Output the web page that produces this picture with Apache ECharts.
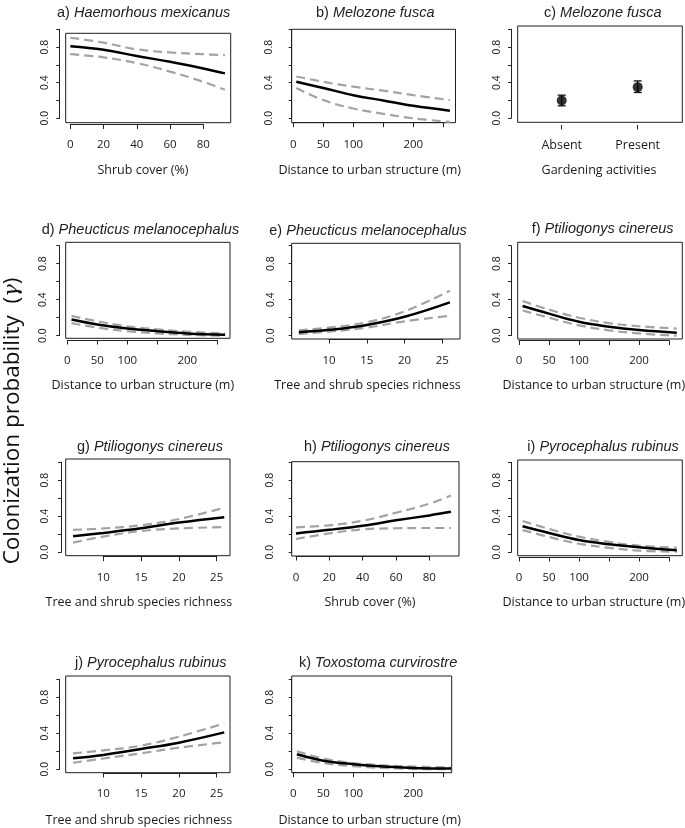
<!DOCTYPE html>
<html><head><meta charset="utf-8">
<script src="https://cdn.jsdelivr.net/npm/echarts@6/dist/echarts.min.js"></script>
<style>html,body{margin:0;padding:0;background:#fff}#c{width:685px;height:828px}</style>
</head><body><div id="c"></div>
<script>
// ---------------- data ----------------
const yTickLabels = ['0.0', '0.4', '0.8'];
const shrubTickLabels = [0, 20, 40, 60, 80];
const distTickLabels = [0, 50, 100, 200];
const richTickLabels = [10, 15, 20, 25];
const gardenCats = ['Absent', 'Present'];

// a) Haemorhous mexicanus ~ shrub cover
const aX   = [0, 20, 40, 60, 80, 93];
const aFit = [0.81, 0.77, 0.70, 0.635, 0.56, 0.505];
const aUp  = [0.905, 0.85, 0.775, 0.74, 0.72, 0.71];
const aLo  = [0.72, 0.685, 0.62, 0.525, 0.41, 0.32];
// b) Melozone fusca ~ distance to urban structure
const bX   = [5, 50, 100, 150, 200, 261];
const bFit = [0.41, 0.34, 0.26, 0.20, 0.14, 0.085];
const bUp  = [0.47, 0.41, 0.355, 0.31, 0.26, 0.205];
const bLo  = [0.34, 0.205, 0.11, 0.05, 0.0, -0.04];
// c) Melozone fusca ~ gardening activities
const gardenEst = [0.20, 0.35];
const gardenLo  = [0.14, 0.29];
const gardenHi  = [0.26, 0.42];
// d) Pheucticus melanocephalus ~ distance
const dX   = [7, 50, 100, 150, 200, 263];
const dFit = [0.18, 0.125, 0.08, 0.05, 0.025, 0.01];
const dUp  = [0.22, 0.16, 0.105, 0.07, 0.045, 0.025];
const dLo  = [0.14, 0.09, 0.05, 0.025, 0.01, 0.0];
// e) Pheucticus melanocephalus ~ richness
const eX   = [6, 10, 15, 20, 26];
const eFit = [0.038, 0.065, 0.12, 0.21, 0.37];
const eUp  = [0.06, 0.09, 0.15, 0.27, 0.50];
const eLo  = [0.02, 0.045, 0.09, 0.16, 0.22];
// f) Ptiliogonys cinereus ~ distance
const fX   = [6, 50, 100, 150, 200, 263];
const fFit = [0.33, 0.245, 0.155, 0.10, 0.063, 0.033];
const fUp  = [0.385, 0.29, 0.20, 0.14, 0.105, 0.08];
const fLo  = [0.28, 0.20, 0.115, 0.06, 0.025, 0.0];
// g) Ptiliogonys cinereus ~ richness
const gX   = [6, 10, 15, 20, 26];
const gFit = [0.178, 0.215, 0.267, 0.33, 0.39];
const gUp  = [0.25, 0.265, 0.30, 0.37, 0.495];
const gLo  = [0.107, 0.175, 0.237, 0.265, 0.28];
// h) Ptiliogonys cinereus ~ shrub cover
const hX   = [0, 20, 40, 60, 80, 93];
const hFit = [0.21, 0.25, 0.296, 0.355, 0.41, 0.45];
const hUp  = [0.278, 0.30, 0.35, 0.44, 0.54, 0.63];
const hLo  = [0.148, 0.21, 0.255, 0.267, 0.27, 0.27];
// i) Pyrocephalus rubinus ~ distance
const iX   = [6, 50, 100, 150, 200, 263];
const iFit = [0.29, 0.215, 0.137, 0.09, 0.055, 0.022];
const iUp  = [0.348, 0.26, 0.174, 0.115, 0.074, 0.051];
const iLo  = [0.247, 0.17, 0.095, 0.05, 0.018, 0.007];
// j) Pyrocephalus rubinus ~ richness
const jX   = [6, 10, 15, 20, 26];
const jFit = [0.122, 0.16, 0.226, 0.296, 0.41];
const jUp  = [0.178, 0.21, 0.263, 0.363, 0.51];
const jLo  = [0.073, 0.12, 0.178, 0.24, 0.30];
// k) Toxostoma curvirostre ~ distance
const kX   = [6, 50, 100, 150, 200, 263];
const kFit = [0.167, 0.096, 0.056, 0.03, 0.015, 0.008];
const kUp  = [0.20, 0.12, 0.07, 0.045, 0.03, 0.02];
const kLo  = [0.13, 0.07, 0.035, 0.015, 0.005, 0.0];

// ---------------- layout ----------------
const DIST = 'Distance to urban structure (m)';
const RICH = 'Tree and shrub species richness';
const SHRUB = 'Shrub cover (%)';
const panels = [
 {t:['a) ','Haemorhous mexicanus'], tx:57, ty:12.7, box:[65.7,33.3,230.7,122.7], yAx:59.3, yTop:29.3, yBot:118.3, yLab:45.3,
  xAy:124.5, xL:70.3, xR:203.3, xMin:0, xMax:80, xStep:20, xLab:145.7, xShow:shrubTickLabels, nm:SHRUB, nx:143, ny:170, x:aX, fit:aFit, up:aUp, lo:aLo},
 {t:['b) ','Melozone fusca'], tx:316, ty:12.7, box:[291.7,29.3,455.5,122.7], yAx:291.7, yTop:29.3, yBot:118.3, yLab:269.5,
  xAy:122.7, xL:293.3, xR:443.3, xMin:0, xMax:250, xStep:50, xLab:145.7, xShow:distTickLabels, nm:DIST, nx:369.7, ny:170, x:bX, fit:bFit, up:bUp, lo:bLo},
 {t:['c) ','Melozone fusca'], tx:544, ty:12.7, box:[517.7,26,682.3,122.3], yAx:511, yTop:29.3, yBot:118.3, yLab:497.2,
  xAy:125, xL:561.7, xR:637.7, cat:true, xLab:145.7, nm:'Gardening activities', nx:599, ny:170},
 {t:['d) ','Pheucticus melanocephalus'], tx:41.7, ty:229.5, box:[65.7,242.3,230,338.3], yAx:59.3, yTop:245.7, yBot:335.7, yLab:43.8,
  xAy:340, xL:67.3, xR:217.3, xMin:0, xMax:250, xStep:50, xLab:361.7, xShow:distTickLabels, nm:DIST, nx:142.8, ny:385, x:dX, fit:dFit, up:dUp, lo:dLo},
 {t:['e) ','Pheucticus melanocephalus'], tx:269.3, ty:230.7, box:[291.7,243.3,460,339], yAx:291.7, yTop:245.7, yBot:335.7, yLab:271.7,
  xAy:339, xL:329, xR:442.3, xMin:10, xMax:25, xStep:5, xLab:361.7, xShow:richTickLabels, nm:RICH, nx:367.5, ny:385, x:eX, fit:eFit, up:eUp, lo:eLo},
 {t:['f) ','Ptiliogonys cinereus'], tx:531.7, ty:229.3, box:[517.7,242.3,682.3,339], yAx:511, yTop:245.7, yBot:335.7, yLab:497.2,
  xAy:340.5, xL:519, xR:669, xMin:0, xMax:250, xStep:50, xLab:361.7, xShow:distTickLabels, nm:DIST, nx:593.8, ny:385, x:fX, fit:fFit, up:fUp, lo:fLo},
 {t:['g) ','Ptiliogonys cinereus'], tx:77, ty:446.7, box:[65.7,459,230,555.7], yAx:61, yTop:462.3, yBot:552.3, yLab:45.2,
  xAy:556.7, xL:103.3, xR:216.7, xMin:10, xMax:25, xStep:5, xLab:578.3, xShow:richTickLabels, nm:RICH, nx:138.8, ny:602, x:gX, fit:gFit, up:gUp, lo:gLo},
 {t:['h) ','Ptiliogonys cinereus'], tx:304, ty:446.7, box:[291.7,461.7,459,556], yAx:291.7, yTop:462.3, yBot:552.3, yLab:270.5,
  xAy:556, xL:296, xR:429.3, xMin:0, xMax:80, xStep:20, xLab:578.3, xShow:shrubTickLabels, nm:SHRUB, nx:370, ny:602, x:hX, fit:hFit, up:hUp, lo:hLo},
 {t:['i) ','Pyrocephalus rubinus'], tx:527.3, ty:446.7, box:[517.7,460,682.3,555.7], yAx:511, yTop:462.3, yBot:552.3, yLab:497.2,
  xAy:557, xL:519, xR:669, xMin:0, xMax:250, xStep:50, xLab:578.3, xShow:distTickLabels, nm:DIST, nx:593.8, ny:602, x:iX, fit:iFit, up:iUp, lo:iLo},
 {t:['j) ','Pyrocephalus rubinus'], tx:75, ty:662.7, box:[65.7,676,230,772.7], yAx:59.3, yTop:679.3, yBot:769.3, yLab:45.3,
  xAy:773, xL:103.3, xR:216.7, xMin:10, xMax:25, xStep:5, xLab:794.3, xShow:richTickLabels, nm:RICH, nx:138.8, ny:820, x:jX, fit:jFit, up:jUp, lo:jLo},
 {t:['k) ','Toxostoma curvirostre'], tx:299, ty:662.7, box:[291.7,676,451.7,772.7], yAx:291.7, yTop:679.3, yBot:769.3, yLab:270.3,
  xAy:772.7, xL:293.3, xR:443.3, xMin:0, xMax:250, xStep:50, xLab:794.3, xShow:distTickLabels, nm:DIST, nx:369.7, ny:820, x:kX, fit:kFit, up:kUp, lo:kLo}
];

const AX = '#222';
const grids = [], xAxes = [], yAxes = [], series = [], graphics = [];
panels.forEach(p => {
  // box grid: data-bearing frame, its hidden axes share the tick axes' scale
  const gb = grids.length;
  grids.push({left:p.box[0], top:p.box[1], width:p.box[2]-p.box[0], height:p.box[3]-p.box[1], show:true,
    borderColor:'#1e1e1e', borderWidth:1, backgroundColor:'transparent', containLabel:false, outerBoundsMode:'none'});
  const bxi = xAxes.length, byi = yAxes.length;
  const yPer = 1 / (p.yBot - p.yTop);
  yAxes.push({gridIndex:gb, type:'value', show:false, min:(p.yBot - p.box[3]) * yPer, max:(p.yBot - p.box[1]) * yPer});
  if (p.cat) {
    xAxes.push({gridIndex:gb, type:'value', show:false, min:0, max:1});
  } else {
    const xPer = (p.xMax - p.xMin) / (p.xR - p.xL);
    xAxes.push({gridIndex:gb, type:'value', show:false, min:p.xMin + (p.box[0] - p.xL) * xPer, max:p.xMin + (p.box[2] - p.xL) * xPer});
  }
  // tick grid: spans first..last tick, carries the visible axes
  const ga = grids.length;
  grids.push({left:p.xL, top:p.yTop, width:p.xR-p.xL, height:p.yBot-p.yTop, show:false, containLabel:false, outerBoundsMode:'none'});
  const xi = xAxes.length, yi = yAxes.length;
  const xa = {gridIndex:ga, position:'bottom', offset:p.xAy - p.yBot,
    axisLine:{show:!p.cat, onZero:false, lineStyle:{color:AX, width:1}},
    axisTick:{show:true, length:4.5, lineStyle:{color:AX, width:1}},
    axisLabel:{margin:p.xLab - 6.5 - p.xAy, fontFamily:'Open Sans', fontSize:11.5, color:'#1a1a1a', hideOverlap:false},
    splitLine:{show:false}};
  if (p.cat) {
    Object.assign(xa, {type:'category', data:gardenCats, boundaryGap:false});
    xa.axisTick.interval = 0; xa.axisLabel.interval = 0;
    xa.axisLabel.fontSize = 12.5;
  } else {
    Object.assign(xa, {type:'value', min:p.xMin, max:p.xMax, interval:p.xStep});
    xa.axisLabel.formatter = v => (p.xShow.indexOf(Math.round(v)) >= 0 ? String(Math.round(v)) : '');
    xa.axisLabel.showMinLabel = true; xa.axisLabel.showMaxLabel = true;
  }
  xAxes.push(xa);
  yAxes.push({gridIndex:ga, type:'value', min:0, max:1, interval:0.2, position:'left', offset:p.xL - p.yAx,
    axisLine:{show:true, onZero:false, lineStyle:{color:AX, width:1}},
    axisTick:{show:true, length:3, lineStyle:{color:AX, width:1}},
    axisLabel:{rotate:90, margin:p.yAx - p.yLab - 5.3, fontFamily:'Liberation Sans', fontSize:10.5, color:'#1a1a1a', hideOverlap:false,
      showMinLabel:true, showMaxLabel:true,
      formatter: v => { const s = v.toFixed(1); return yTickLabels.indexOf(s) >= 0 ? s : ''; }},
    splitLine:{show:false}});
  if (p.cat) {
    series.push({type:'custom', xAxisIndex:xi, yAxisIndex:yi, clip:false, silent:true, z:4,
      data: gardenCats.map((c, k) => [k, gardenLo[k], gardenHi[k]]),
      renderItem: (params, api) => {
        const lo = api.coord([api.value(0), api.value(1)]);
        const hi = api.coord([api.value(0), api.value(2)]);
        const w = 4, st = {stroke:'#111', lineWidth:1.3};
        return {type:'group', children:[
          {type:'line', shape:{x1:lo[0], y1:lo[1], x2:hi[0], y2:hi[1]}, style:st},
          {type:'line', shape:{x1:lo[0]-w, y1:lo[1], x2:lo[0]+w, y2:lo[1]}, style:st},
          {type:'line', shape:{x1:hi[0]-w, y1:hi[1], x2:hi[0]+w, y2:hi[1]}, style:st}
        ]};
      }});
    series.push({type:'scatter', xAxisIndex:xi, yAxisIndex:yi, clip:false, silent:true, z:5,
      symbol:'circle', symbolSize:10, itemStyle:{color:'#000'},
      data: gardenCats.map((c, k) => [c, gardenEst[k]])});
  } else {
    const mk = arr => p.x.map((x, k) => [x, arr[k]]);
    const dash = {color:'#a3a3a3', width:2.2, type:[9, 5]};
    [[p.up, dash, 3], [p.lo, dash, 3], [p.fit, {color:'#000', width:2.5, type:'solid'}, 4]].forEach(([arr, ls, z]) => {
      series.push({type:'line', xAxisIndex:bxi, yAxisIndex:byi, data:mk(arr), symbol:'none', showSymbol:false,
        smooth:0.4, clip:false, silent:true, z:z, lineStyle:ls});
    });
  }
  graphics.push({type:'text', x:p.tx, y:p.ty, silent:true, style:{
    text:'{n|' + p.t[0] + '}{i|' + p.t[1] + '}', align:'left', verticalAlign:'middle',
    rich:{n:{fontFamily:'Liberation Sans', fontSize:14.5, fill:'#222'},
          i:{fontFamily:'Liberation Sans', fontStyle:'italic', fontSize:14.5, fill:'#222'}}}});
  graphics.push({type:'text', x:p.nx, y:p.ny, silent:true, style:{
    text:p.nm, fontFamily:'Open Sans', fontSize:12.5, fill:'#1a1a1a', align:'center', verticalAlign:'middle'}});
});
graphics.push({type:'text', x:13, y:421, rotation:Math.PI/2, silent:true, style:{
  text:'{n|Colonization probability  (}{g|γ}{n|)}', align:'center', verticalAlign:'middle',
  rich:{n:{fontFamily:'Open Sans', fontSize:22.5, fill:'#111'}, g:{fontFamily:'DejaVu Serif', fontStyle:'italic', fontSize:21, fill:'#111'}}}});

const chart = echarts.init(document.getElementById('c'), null, {renderer:'canvas'});
chart.setOption({animation:false, backgroundColor:'#fff', grid:grids, xAxis:xAxes, yAxis:yAxes, series:series, graphic:graphics});
</script></body></html>
